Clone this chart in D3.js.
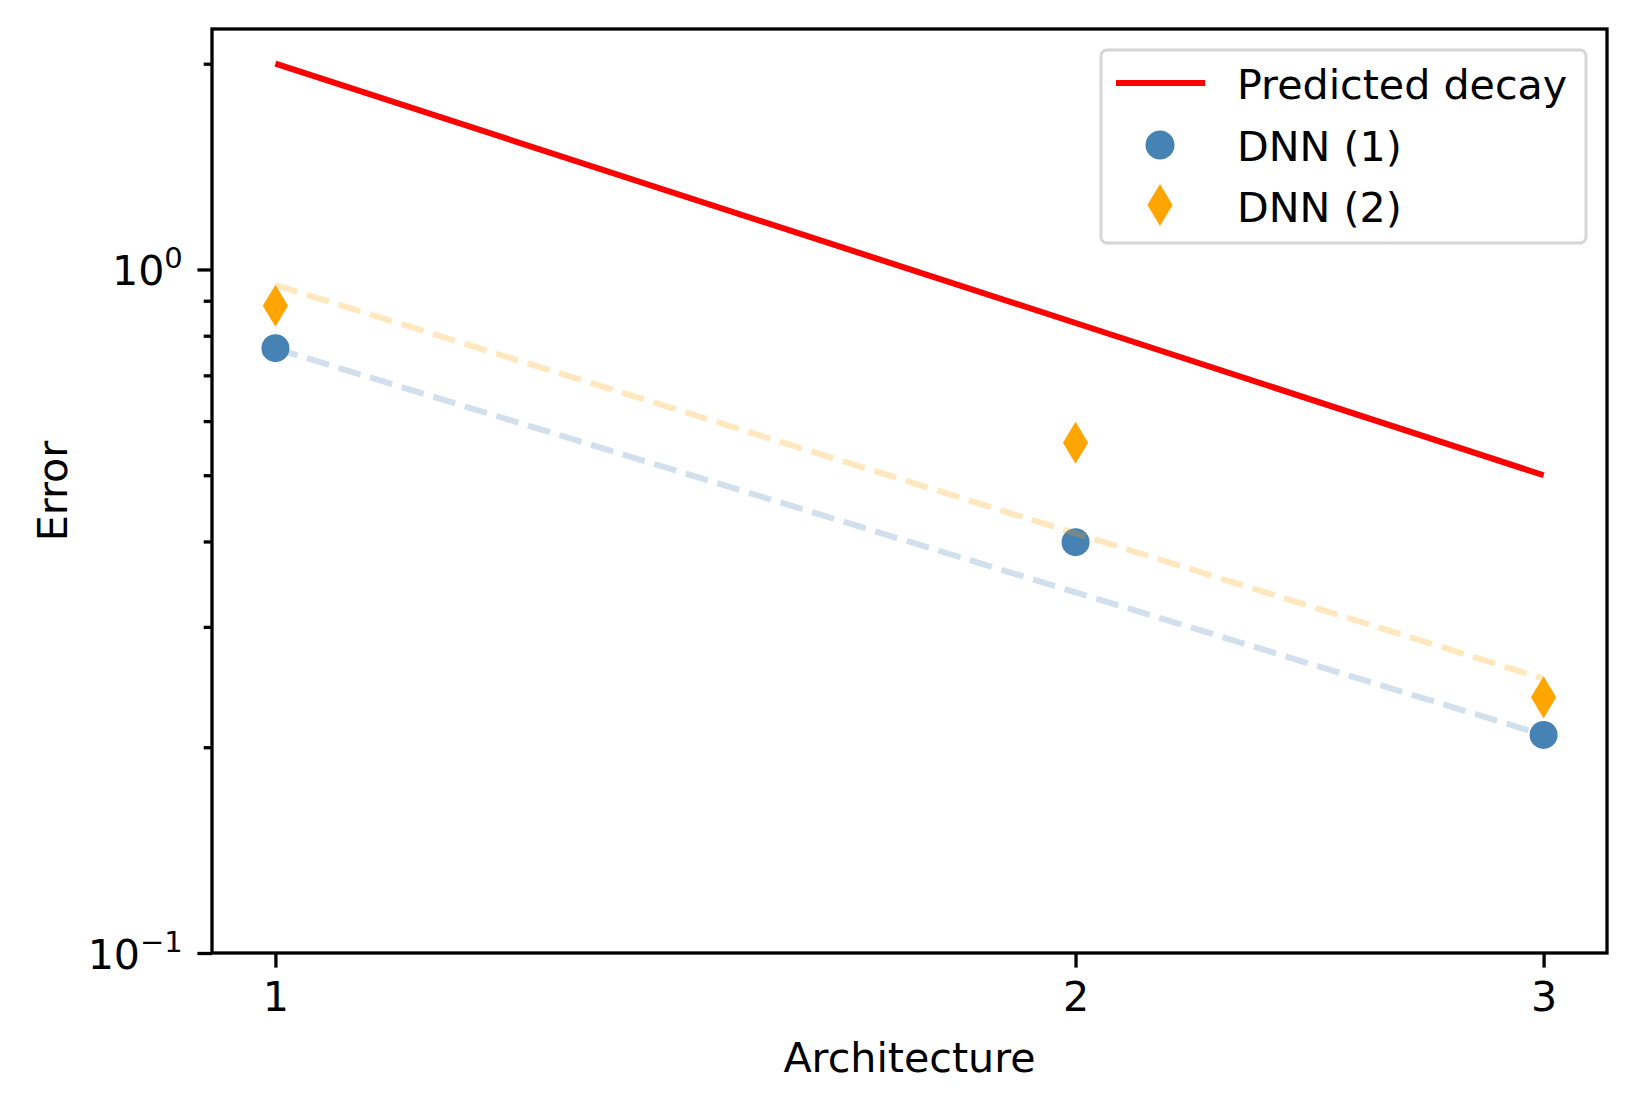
<!DOCTYPE html>
<html>
<head>
<meta charset="utf-8">
<script src="https://cdn.jsdelivr.net/npm/d3@7"></script>
<style>
    body { margin: 0; background: #fff; }
    text { font-family: "DejaVu Sans", sans-serif; }
</style>
</head>
<body>
<div id="chart"></div>
<script>
// data
var archs = [1, 2, 3];
var predicted = [2.0, 0.835, 0.5];
var dnn1 = [0.767, 0.399, 0.2085];
var dnn2 = [0.885, 0.558, 0.2366];
var fit1 = [0.766, 0.337, 0.2085];
var fit2 = [0.949, 0.411, 0.252];

var xTicks = [1, 2, 3];
var yMajor = [0.1, 1];
var yMajorExp = ["\u22121", "0"];
var yMinor = [0.2, 0.3, 0.4, 0.5, 0.6, 0.7, 0.8, 0.9, 2];

var legendLabels = ["Predicted decay", "DNN (1)", "DNN (2)"];

var width = 1636, height = 1109;
// plot box (note: "top" is a reserved window prop)
var pLeft = 212, pRight = 1607, pTop = 29, pBottom = 953;
var fontSize = 41.2;
var majorLen = 14.6, minorLen = 8.3, tickW = 3.3;

var svg = d3.select("#chart")
    .append("svg")
    .attr("width", width)
    .attr("height", height);

var x = d3.scaleLog()
    .domain([Math.pow(10, -0.02386), Math.pow(10, Math.log10(3) * 1.05)])
    .range([pLeft, pRight]);

var y = d3.scaleLog()
    .domain([0.1, 2.248])
    .range([pBottom, pTop]);

var steel = "#4682b4", orange = "#ffa500";

// predicted decay
var line = d3.line()
    .x(function(d, i) { return x(archs[i]); })
    .y(function(d) { return y(d); });

svg.append("path")
    .datum(predicted)
    .attr("d", line)
    .attr("fill", "none")
    .attr("stroke", "#ff0000")
    .attr("stroke-width", 6);

// DNN (1) circles
svg.selectAll(".dot1")
    .data(dnn1)
    .enter()
    .append("circle")
    .attr("class", "dot1")
    .attr("cx", function(d, i) { return x(archs[i]); })
    .attr("cy", function(d) { return y(d); })
    .attr("r", 14)
    .attr("fill", steel);

// DNN (2) diamonds
var diamond = "M0,-21L12.6,0L0,21L-12.6,0Z";
svg.selectAll(".dot2")
    .data(dnn2)
    .enter()
    .append("path")
    .attr("class", "dot2")
    .attr("d", diamond)
    .attr("transform", function(d, i) { return "translate(" + x(archs[i]) + "," + y(d) + ")"; })
    .attr("fill", orange);

// fitted dashed lines
[[fit1, steel], [fit2, orange]].forEach(function(f) {
    svg.append("path")
        .datum(f[0])
        .attr("d", line)
        .attr("fill", "none")
        .attr("stroke", f[1])
        .attr("stroke-opacity", 0.25)
        .attr("stroke-width", 6)
        .attr("stroke-dasharray", "23,10");
});

// x axis
var xAxis = svg.append("g")
    .attr("transform", "translate(0," + pBottom + ")")
    .call(d3.axisBottom(x)
        .tickValues(xTicks)
        .tickSize(majorLen)
        .tickPadding(14.6)
        .tickFormat(d3.format("d")));
xAxis.select(".domain").remove();
xAxis.selectAll("line").attr("stroke-width", tickW).attr("stroke", "#000");
xAxis.selectAll("text")
    .attr("font-size", fontSize)
    .attr("font-family", "DejaVu Sans")
    .attr("fill", "#000");

// y axis
var yMinorAxis = svg.append("g")
    .attr("transform", "translate(" + pLeft + ",0)")
    .call(d3.axisLeft(y).tickValues(yMinor).tickSize(minorLen).tickFormat(""));
yMinorAxis.select(".domain").remove();
yMinorAxis.selectAll("line").attr("stroke-width", tickW).attr("stroke", "#000");

var yAxis = svg.append("g")
    .attr("transform", "translate(" + pLeft + ",0)")
    .call(d3.axisLeft(y).tickValues(yMajor).tickSize(majorLen).tickFormat(""));
yAxis.select(".domain").remove();
yAxis.selectAll("line").attr("stroke-width", tickW).attr("stroke", "#000");

var yLab = svg.selectAll(".ylab")
    .data(yMajor)
    .enter()
    .append("text")
    .attr("class", "ylab")
    .attr("x", pLeft - majorLen - 14.6)
    .attr("y", function(d) { return y(d) + 15.5; })
    .attr("text-anchor", "end")
    .attr("font-size", fontSize)
    .attr("fill", "#000");
yLab.append("tspan").text("10");
yLab.append("tspan")
    .attr("font-size", 29)
    .attr("dy", -17)
    .text(function(d, i) { return yMajorExp[i]; });

// frame
svg.append("rect")
    .attr("x", pLeft)
    .attr("y", pTop)
    .attr("width", pRight - pLeft)
    .attr("height", pBottom - pTop)
    .attr("fill", "none")
    .attr("stroke", "#000")
    .attr("stroke-width", tickW);

// axis titles
svg.append("text")
    .attr("x", (pLeft + pRight) / 2)
    .attr("y", 1072)
    .attr("text-anchor", "middle")
    .attr("font-size", fontSize)
    .text("Architecture");

svg.append("text")
    .attr("transform", "translate(67," + (pTop + pBottom) / 2 + ") rotate(-90)")
    .attr("text-anchor", "middle")
    .attr("font-size", fontSize)
    .text("Error");

// legend
var legend = svg.append("g");
legend.append("rect")
    .attr("x", 1101)
    .attr("y", 50)
    .attr("width", 485)
    .attr("height", 193)
    .attr("rx", 6)
    .attr("fill", "#fff")
    .attr("fill-opacity", 0.8)
    .attr("stroke", "#d6d6d6")
    .attr("stroke-width", 3);

legend.append("line")
    .attr("x1", 1116).attr("x2", 1205)
    .attr("y1", 83).attr("y2", 83)
    .attr("stroke", "#ff0000")
    .attr("stroke-width", 6);
legend.append("circle")
    .attr("cx", 1160).attr("cy", 145)
    .attr("r", 14.5)
    .attr("fill", steel);
legend.append("path")
    .attr("d", diamond)
    .attr("transform", "translate(1160,205)")
    .attr("fill", orange);

legend.selectAll(".leglab")
    .data(legendLabels)
    .enter()
    .append("text")
    .attr("class", "leglab")
    .attr("x", 1237)
    .attr("y", function(d, i) { return 99 + i * 61.5; })
    .attr("font-size", fontSize)
    .text(function(d) { return d; });
</script>
</body>
</html>
